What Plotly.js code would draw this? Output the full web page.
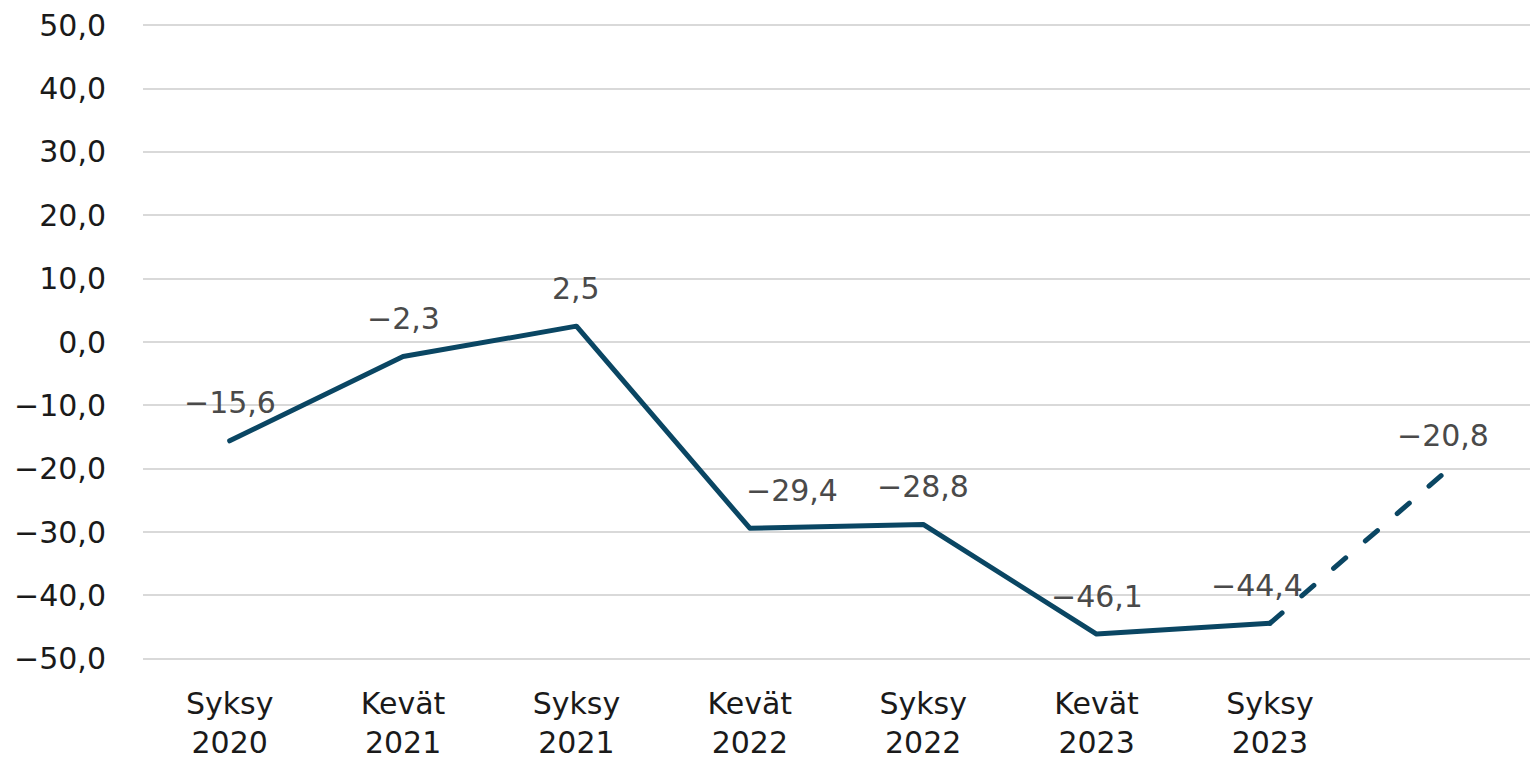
<!DOCTYPE html>
<html><head><meta charset="utf-8">
<script src="https://cdn.plot.ly/plotly-3.0.1.min.js"></script>
<style>html,body{margin:0;padding:0;background:#fff}#chart{width:1536px;height:763px}
#chart .scatterlayer path.js-line{stroke-linecap:round;stroke-linejoin:round}</style>
</head><body><div id="chart"></div>
<script>
const categories = ["Syksy<br>2020","Kevät<br>2021","Syksy<br>2021","Kevät<br>2022","Syksy<br>2022","Kevät<br>2023","Syksy<br>2023",""];
const values = [-15.6, -2.3, 2.5, -29.4, -28.8, -46.1, -44.4, -20.8];
const labelShift = [0, 0, 0, 42, 0, 0, -13, 0];
const solidCount = 7; // first seven points solid, last segment dashed (forecast)

const xIdx = categories.map((_, i) => i);
const fmt = v => (v < 0 ? "\u2212" : "") + Math.abs(v).toFixed(1).replace(".", ",");

const FONT = "DejaVu Sans, sans-serif";
const lineColor = "#0a4663";
const traces = [
  {x: xIdx.slice(0, solidCount), y: values.slice(0, solidCount), mode: "lines",
   line: {color: lineColor, width: 5}, hoverinfo: "skip"},
  {x: xIdx.slice(solidCount - 1), y: values.slice(solidCount - 1), mode: "lines",
   line: {color: lineColor, width: 5, dash: "16px,26px"}, hoverinfo: "skip"}
];

const annotations = values.map((v, i) => ({
  x: i, y: v, xref: "x", yref: "y", text: fmt(v), showarrow: false,
  yshift: 38, xshift: labelShift[i], font: {family: FONT, size: 30, color: "#4a4a4a"}
}));

const layout = {
  width: 1536, height: 763,
  margin: {l: 143, r: 6, t: 24, b: 103},
  paper_bgcolor: "#fff", plot_bgcolor: "#fff",
  showlegend: false,
  separators: ",.",
  font: {family: FONT, color: "#1a1a1a"},
  xaxis: {range: [-0.5, 7.5], tickvals: xIdx, ticktext: categories,
    showgrid: false, zeroline: false, showline: false,
    ticks: "outside", ticklen: 17, tickcolor: "rgba(0,0,0,0)",
    tickfont: {family: FONT, size: 30, color: "#1a1a1a"}},
  yaxis: {range: [-50.2, 50.2], tickvals: [-50,-40,-30,-20,-10,0,10,20,30,40,50], tickformat: ".1f",
    showgrid: true, gridcolor: "#d9d9d9", gridwidth: 2,
    zeroline: true, zerolinecolor: "#d9d9d9", zerolinewidth: 2, showline: false,
    ticks: "outside", ticklen: 30, tickcolor: "rgba(0,0,0,0)",
    tickfont: {family: FONT, size: 30, color: "#1a1a1a"}},
  annotations: annotations
};

Plotly.newPlot("chart", traces, layout, {staticPlot: true, displayModeBar: false});
</script></body></html>
